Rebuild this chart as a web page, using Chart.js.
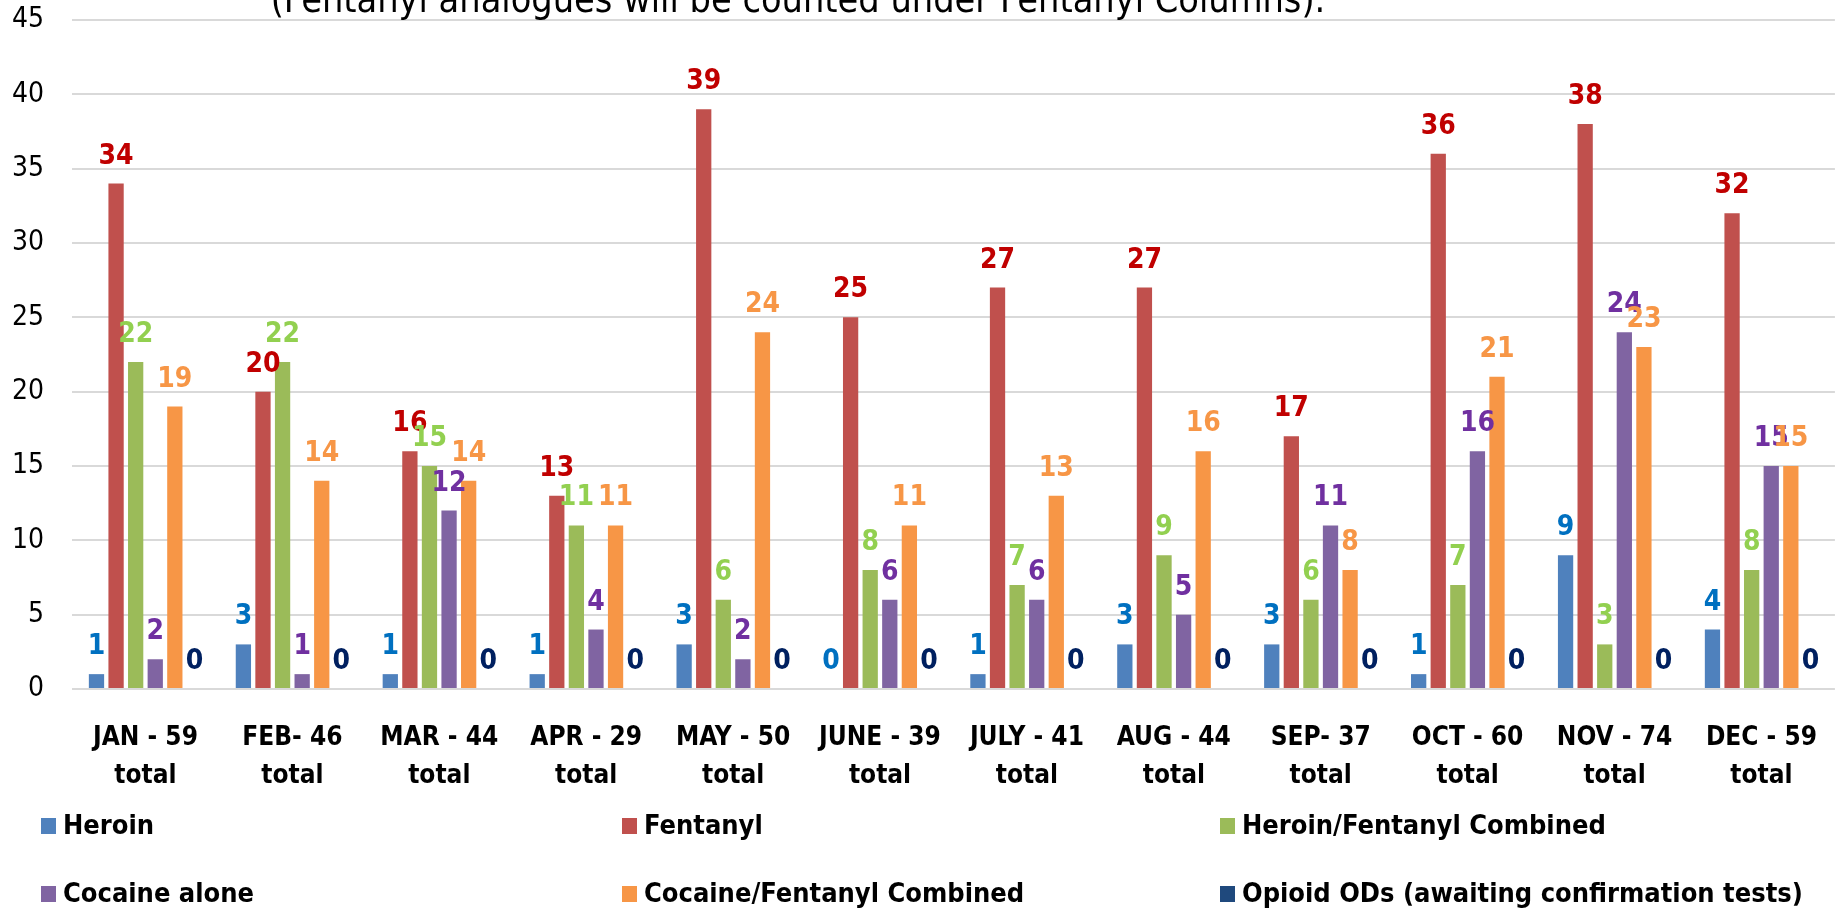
<!DOCTYPE html>
<html lang="en">
<head>
	<title>Overdose Deaths by Month</title>
	<script src="https://cdn.jsdelivr.net/npm/chart.js"></script>
	<style>
		html, body {
			margin: 0;
			padding: 0;
			background: #ffffff;
			overflow: hidden;
		}
		#odChart {
			display: block;
		}
	</style>
</head>
<body>
<canvas id="odChart" width="1839" height="912"></canvas>

<script>
	const months = [
		['JAN - 59', 'total'], ['FEB- 46', 'total'], ['MAR - 44', 'total'], ['APR - 29', 'total'],
		['MAY - 50', 'total'], ['JUNE - 39', 'total'], ['JULY - 41', 'total'], ['AUG - 44', 'total'],
		['SEP- 37', 'total'], ['OCT - 60', 'total'], ['NOV - 74', 'total'], ['DEC - 59', 'total']
	];
	const heroin = [1, 3, 1, 1, 3, 0, 1, 3, 3, 1, 9, 4];
	const fentanyl = [34, 20, 16, 13, 39, 25, 27, 27, 17, 36, 38, 32];
	const heroinFentanyl = [22, 22, 15, 11, 6, 8, 7, 9, 6, 7, 3, 8];
	const cocaineAlone = [2, 1, 12, 4, 2, 6, 6, 5, 11, 16, 24, 15];
	const cocaineFentanyl = [19, 14, 14, 11, 24, 11, 13, 16, 8, 21, 23, 15];
	const opioidPending = [0, 0, 0, 0, 0, 0, 0, 0, 0, 0, 0, 0];
	const titleText = '(Fentanyl analogues will be counted under Fentanyl Columns).';

	const FONT = '"Liberation Sans Narrow", "DejaVu Sans Condensed", "Open Sans", sans-serif';

	// label colour for each series (Excel style)
	const labelColors = ['#0070C0', '#C00000', '#92D050', '#7030A0', '#F79646', '#002060'];

	// data labels above bars
	const barLabels = {
		id: 'barLabels',
		afterDatasetsDraw(chart) {
			const ctx = chart.ctx;
			ctx.save();
			ctx.font = 'bold 28px ' + FONT;
			ctx.textAlign = 'center';
			ctx.textBaseline = 'alphabetic';
			chart.data.datasets.forEach((ds, i) => {
				const meta = chart.getDatasetMeta(i);
				ctx.fillStyle = labelColors[i];
				meta.data.forEach((bar, j) => {
					ctx.fillText(ds.data[j], bar.x, bar.y - 20);
				});
			});
			ctx.restore();
		}
	};

	// title (partly cut off at the top) and 3-column legend
	const extras = {
		id: 'extras',
		afterDraw(chart) {
			const ctx = chart.ctx;
			ctx.save();
			ctx.fillStyle = '#000000';
			ctx.textAlign = 'center';
			ctx.textBaseline = 'alphabetic';
			let size = 40;
			ctx.font = size + 'px ' + FONT;
			size = size * 1055 / ctx.measureText(titleText).width;
			ctx.font = size + 'px ' + FONT;
			ctx.fillText(titleText, 798, 12);

			const cols = [41, 622, 1220];
			const rows = [826, 894];
			ctx.font = 'bold 27px ' + FONT;
			ctx.textAlign = 'left';
			ctx.textBaseline = 'middle';
			chart.data.datasets.forEach((ds, i) => {
				const x = cols[i % 3];
				const y = rows[Math.floor(i / 3)];
				ctx.fillStyle = ds.backgroundColor;
				ctx.fillRect(x, y - 8, 15, 16);
				ctx.fillStyle = '#000000';
				ctx.fillText(ds.label, x + 22, y + 1);
			});
			ctx.restore();
		}
	};

	const ctx = document.getElementById('odChart').getContext('2d');
	new Chart(ctx, {
		type: 'bar',
		data: {
			labels: months,
			datasets: [
				{ label: 'Heroin', data: heroin, backgroundColor: '#4F81BD' },
				{ label: 'Fentanyl', data: fentanyl, backgroundColor: '#C0504D' },
				{ label: 'Heroin/Fentanyl Combined', data: heroinFentanyl, backgroundColor: '#9BBB59' },
				{ label: 'Cocaine alone', data: cocaineAlone, backgroundColor: '#8064A2' },
				{ label: 'Cocaine/Fentanyl Combined', data: cocaineFentanyl, backgroundColor: '#F79646' },
				{ label: 'Opioid ODs (awaiting confirmation tests)', data: opioidPending, backgroundColor: '#1F497D' }
			]
		},
		options: {
			responsive: false,
			animation: false,
			datasets: {
				bar: {
					categoryPercentage: 0.8,
					barPercentage: 0.78
				}
			},
			layout: {
				padding: { top: 20, right: 0, bottom: 0, left: 0 }
			},
			plugins: {
				legend: { display: false },
				title: { display: false },
				tooltip: { enabled: false }
			},
			scales: {
				x: {
					grid: { display: false },
					border: { display: false },
					ticks: {
						color: '#000000',
						padding: 22,
						maxRotation: 0,
						autoSkip: false,
						font: { family: FONT, size: 26, weight: 'bold', lineHeight: 1.46 }
					},
					afterFit(scale) {
						scale.height = 223;
					}
				},
				y: {
					min: 0,
					max: 45,
					grid: {
						color: '#D9D9D9',
						lineWidth: 2,
						drawTicks: false
					},
					border: { display: false },
					ticks: {
						stepSize: 5,
						color: '#000000',
						padding: 28,
						font: { family: FONT, size: 28 }
					},
					afterFit(scale) {
						scale.width = 72;
						// keep the tick padding from pushing the plot down
						scale.paddingTop = 0;
						scale.paddingBottom = 0;
					}
				}
			}
		},
		plugins: [barLabels, extras]
	});
</script>
</body>
</html>
